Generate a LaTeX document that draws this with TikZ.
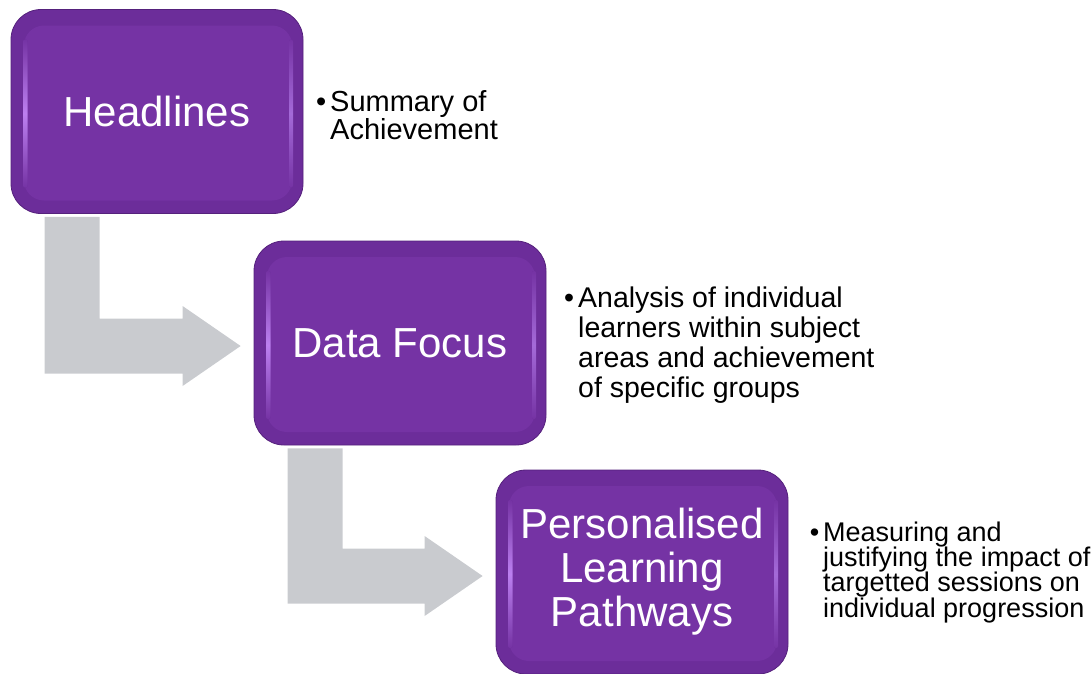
\documentclass[tikz,border=0pt]{standalone}
\usepackage{fontspec}
\setmainfont{Liberation Sans}
\usetikzlibrary{calc}

\definecolor{facepurple}{HTML}{7533A4}
\definecolor{rimpurple}{HTML}{6C2D9A}
\definecolor{rimlight}{HTML}{BC80F0}
\definecolor{rimsoft}{HTML}{A46AD8}
\definecolor{rimedge}{HTML}{55217C}
\definecolor{flowgrey}{HTML}{C9CBCF}

\begin{document}
\begin{tikzpicture}[
    x=1pt, y=-1pt,
    stepbox/.style={rounded corners=30pt, minimum width=292pt, minimum height=204pt,
        inner sep=0pt, draw=rimedge, line width=0.8pt, fill=rimpurple,
        text=white, align=center, font=\fontsize{42}{44}\selectfont,
        path picture={
            \fill[facepurple, rounded corners=20pt]
                ([shift={(13pt,-16pt)}]path picture bounding box.north west) rectangle
                ([shift={(-11pt,13pt)}]path picture bounding box.south east);
            % bright edges of the raised face
            \fill[top color=facepurple, bottom color=facepurple, middle color=rimlight, rounded corners=2pt]
                ([shift={(12pt,-30pt)}]path picture bounding box.north west) rectangle
                ([shift={(16.5pt,26pt)}]path picture bounding box.south west);
            \fill[top color=facepurple, bottom color=facepurple, middle color=rimsoft, rounded corners=2pt]
                ([shift={(-14pt,-30pt)}]path picture bounding box.north east) rectangle
                ([shift={(-10pt,26pt)}]path picture bounding box.south east);
        }},
    note/.style={anchor=base west, inner sep=0pt},
    bentarrow/.style={fill=flowgrey}
]
\useasboundingbox (0,0) rectangle (1091,673);

% the three steps
\node[stepbox] (head) at (157,111.5) {Headlines};
\node[stepbox] (data) at (400,343) {Data Focus};
\node[stepbox] (path) at (642,572) {Personalised\\Learning\\Pathways};

% notes beside each step
\node[note, font=\fontsize{29}{28}\selectfont] (headnote) at (330,111)
    {\llap{•\hspace{4pt}}\vtop{\lineskiplimit=-30pt
        \hbox{Summary of}\hbox{Achievement}}};
\node[note, font=\fontsize{28.5}{30}\selectfont] (datanote) at (578,307)
    {\llap{•\hspace{4pt}}\vtop{\lineskiplimit=-30pt
        \hbox{Analysis of individual}\hbox{learners within subject}
        \hbox{areas and achievement}\hbox{of specific groups}}};
\node[note, font=\fontsize{27}{25.4}\selectfont] (pathnote) at (823,541)
    {\llap{•\hspace{4pt}}\vtop{\lineskiplimit=-30pt
        \hbox{Measuring and}\hbox{justifying the impact of}
        \hbox{targetted sessions on}\hbox{individual progression}}};

% bent arrows from one step down to the next
\foreach \a/\b/\d in {head/data/3pt, data/path/4pt}{
    \coordinate (tip) at ($(\b.west)+(-13pt,-\d)$);
    \fill[bentarrow] ([xshift=34pt,yshift=-3pt]\a.south west)
        -- ([xshift=89pt,yshift=-3pt]\a.south west)
        |- ([xshift=-58pt,yshift=27.5pt]tip)
        -- ([xshift=-58pt,yshift=40pt]tip) -- (tip)
        -- ([xshift=-58pt,yshift=-40pt]tip)
        -- ([xshift=-58pt,yshift=-27.5pt]tip)
        -| ([xshift=34pt,yshift=-3pt]\a.south west) -- cycle;
}
\end{tikzpicture}
\end{document}
